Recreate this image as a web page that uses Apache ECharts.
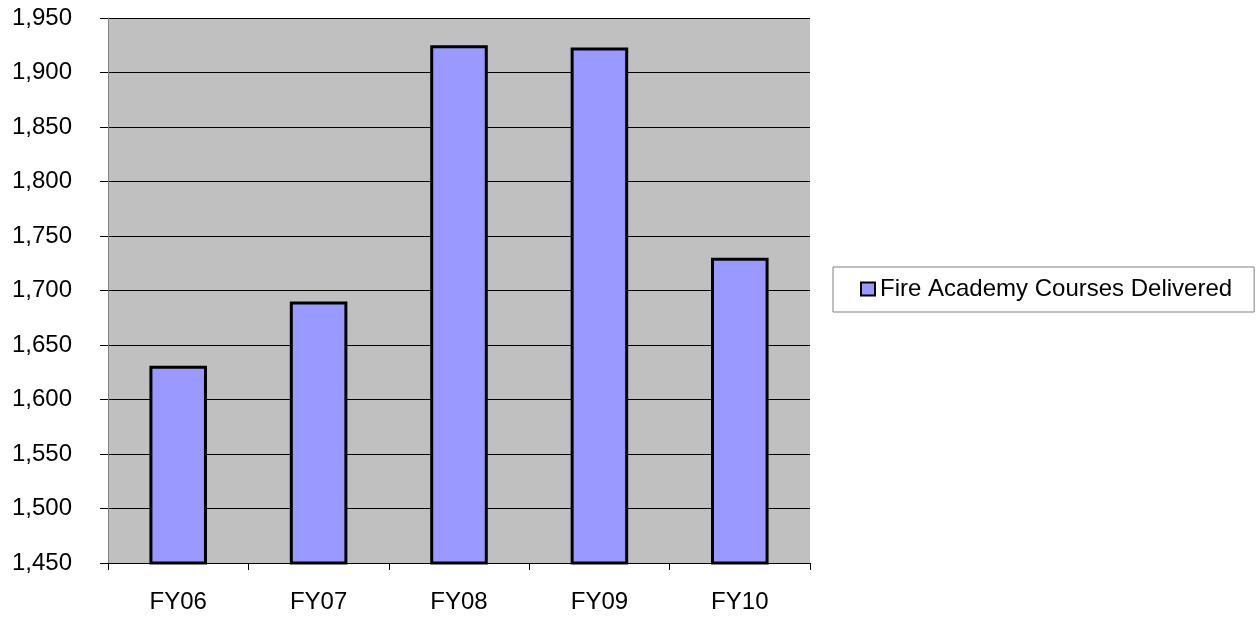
<!DOCTYPE html>
<html>
<head>
<meta charset="utf-8">
<script src="https://cdn.jsdelivr.net/npm/echarts@6/dist/echarts.min.js"></script>
<style>
  html, body { margin: 0; padding: 0; background: #fff; }
  #chart { width: 1260px; height: 619px; }
</style>
</head>
<body>
<div id="chart"></div>
<script>
let categories = ['FY06', 'FY07', 'FY08', 'FY09', 'FY10']
let courses = [1631, 1690, 1925, 1923, 1730]
let seriesName = 'Fire Academy Courses Delivered'

let font = 'Liberation Sans, Arial, sans-serif'

let option = {
  animation: false,
  grid: {
    show: true,
    left: 108,
    top: 18,
    width: 702,
    height: 545,
    backgroundColor: '#c0c0c0',
    borderWidth: 0,
    containLabel: false
  },
  legend: {
    show: true,
    left: 833,
    top: 267,
    padding: [10, 22, 11, 27],
    backgroundColor: '#fff',
    borderColor: '#808080',
    borderWidth: 1,
    icon: 'rect',
    itemWidth: 14,
    itemHeight: 13,
    textStyle: {
      fontFamily: font,
      fontSize: 24,
      color: '#000'
    },
    data: [seriesName]
  },
  xAxis: [{
    type: 'category',
    data: categories,
    axisLine: {
      lineStyle: { color: '#000', width: 1 }
    },
    axisTick: {
      show: true,
      length: 7,
      lineStyle: { color: '#000' }
    },
    axisLabel: {
      margin: 27,
      fontFamily: font,
      fontSize: 24,
      color: '#000'
    },
    splitLine: { show: false }
  }],
  yAxis: [{
    type: 'value',
    min: 1450,
    max: 1950,
    interval: 50,
    axisLine: {
      show: true,
      lineStyle: { color: '#808080', width: 1 }
    },
    axisTick: {
      show: true,
      length: 8,
      lineStyle: { color: '#000' }
    },
    axisLabel: {
      margin: 36,
      fontFamily: font,
      fontSize: 24,
      color: '#000',
      formatter: (value) => {
        return value.toLocaleString('en-US')
      }
    },
    splitLine: {
      show: true,
      lineStyle: { color: '#000', width: 1 }
    }
  }],
  series: [{
    name: seriesName,
    type: 'bar',
    barWidth: '41%',
    itemStyle: {
      color: '#9999ff',
      borderColor: '#000',
      borderWidth: 3
    },
    data: courses
  }]
}

let myChart = echarts.init(document.getElementById('chart'))
myChart.setOption(option)
</script>
</body>
</html>
